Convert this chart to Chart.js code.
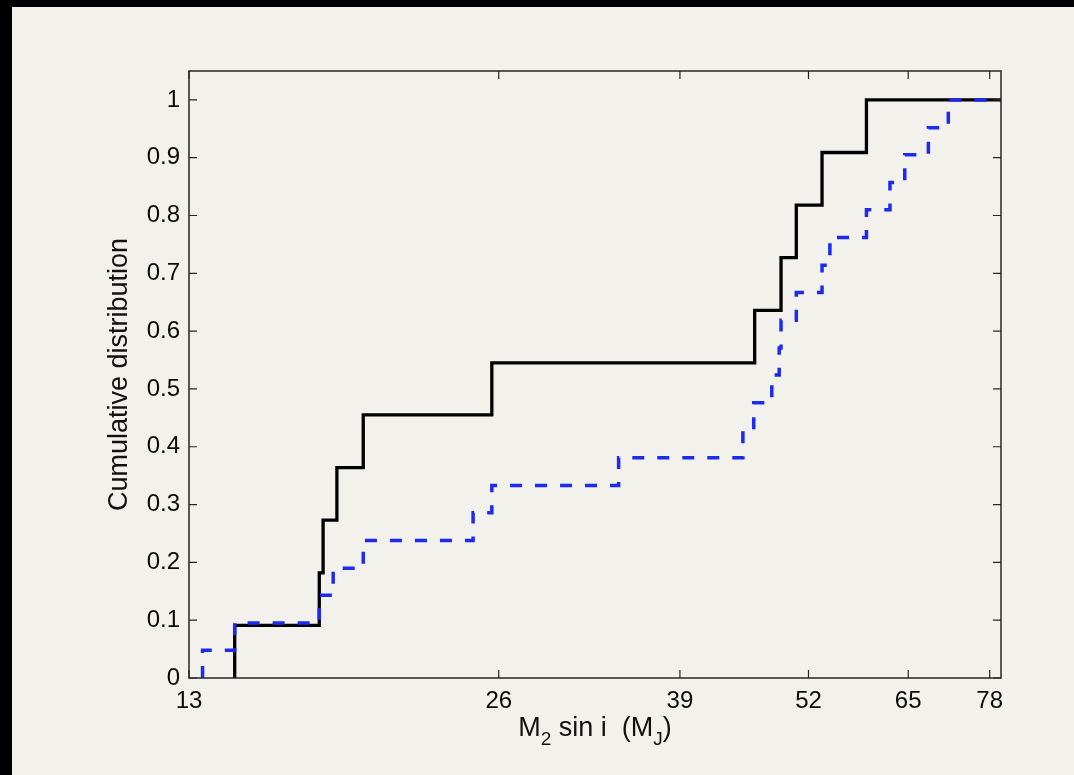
<!DOCTYPE html>
<html>
<head>
<meta charset="utf-8">
<script src="https://cdn.jsdelivr.net/npm/chart.js@4.4.1/dist/chart.umd.min.js"></script>
<style>
  html, body { margin: 0; padding: 0; background: #000; }
  .panel {
    position: absolute; left: 12px; top: 7px;
    width: 1062px; height: 768px;
    background: #f3f1eb;
  }
</style>
</head>
<body>
<div class="panel"><canvas id="cdfCanvas" width="1062" height="768"></canvas></div>
<script>
// minimum mass of each companion (M_J) and the cumulative fraction reached there
const massSolid = [14.4, 17.4, 17.55, 18.1, 19.2, 25.6, 46.1, 48.9, 50.6, 53.6, 59.2];
const cdfSolid = [0.091, 0.182, 0.273, 0.364, 0.455, 0.545, 0.636, 0.727, 0.818, 0.909, 1];

const massDashed = [13.4, 14.4, 17.4, 17.95, 19.2, 24.55, 25.6, 34.0, 44.9, 46.0, 47.9,
  48.7, 48.9, 50.6, 53.6, 54.55, 59.2, 62.4, 64.5, 68.0, 71.1];
const cdfDashed = [0.048, 0.095, 0.143, 0.190, 0.238, 0.286, 0.333, 0.381, 0.429, 0.476, 0.524,
  0.571, 0.619, 0.667, 0.714, 0.762, 0.810, 0.857, 0.905, 0.952, 1];

const xTicks = [13, 26, 39, 52, 65, 78];
const yTicks = [0, 0.1, 0.2, 0.3, 0.4, 0.5, 0.6, 0.7, 0.8, 0.9, 1];
const xMin = 13, xMax = 80;
const yMin = 0, yMax = 1.05;

// staircase: rise from zero at the first mass, flat out to the right edge at the end
function stairs(xs, ys) {
  const pts = [{ x: xs[0], y: 0 }];
  xs.forEach((x, i) => pts.push({ x: x, y: ys[i] }));
  pts.push({ x: xMax, y: ys[ys.length - 1] });
  return pts;
}

const FONT = "'Liberation Sans', Arial, Helvetica, sans-serif";
const axisColor = '#262626';

// box around the plot with matlab style inward ticks on all four sides
const frame = {
  id: 'frame',
  afterDatasetsDraw(chart) {
    const { ctx, chartArea: a, scales } = chart;
    const len = 8;
    ctx.save();
    ctx.strokeStyle = axisColor;
    ctx.lineWidth = 1.5;
    ctx.strokeRect(a.left, a.top, a.right - a.left, a.bottom - a.top);
    ctx.lineWidth = 1.2;
    ctx.beginPath();
    scales.x.ticks.forEach(t => {
      const px = scales.x.getPixelForValue(t.value);
      ctx.moveTo(px, a.bottom); ctx.lineTo(px, a.bottom - len);
      ctx.moveTo(px, a.top); ctx.lineTo(px, a.top + len);
    });
    scales.y.ticks.forEach(t => {
      const py = scales.y.getPixelForValue(t.value);
      ctx.moveTo(a.left, py); ctx.lineTo(a.left + len, py);
      ctx.moveTo(a.right, py); ctx.lineTo(a.right - len, py);
    });
    ctx.stroke();
    ctx.restore();
  }
};

// x axis title with subscripts: M2 sin i  (MJ)
const massTitle = {
  id: 'massTitle',
  afterDraw(chart) {
    const { ctx, chartArea: a } = chart;
    const parts = [
      ['M', 27, 0], ['2', 19, 9], [' sin i  (M', 27, 0], ['J', 19, 9], [')', 27, 0]
    ];
    ctx.save();
    ctx.fillStyle = '#111';
    ctx.textBaseline = 'alphabetic';
    let total = 0;
    parts.forEach(p => { ctx.font = p[1] + 'px ' + FONT; total += ctx.measureText(p[0]).width; });
    let x = (a.left + a.right) / 2 - total / 2;
    const base = a.bottom + 58;
    parts.forEach(p => {
      ctx.font = p[1] + 'px ' + FONT;
      ctx.fillText(p[0], x, base + p[2]);
      x += ctx.measureText(p[0]).width;
    });
    ctx.restore();
  }
};

new Chart(document.getElementById('cdfCanvas'), {
  type: 'scatter',
  data: {
    datasets: [
      {
        data: stairs(massDashed, cdfDashed),
        showLine: true,
        stepped: 'before',
        borderColor: '#1c2bef',
        borderWidth: 3.5,
        borderDash: [12, 13],
        borderCapStyle: 'butt',
        pointRadius: 0,
        fill: false
      },
      {
        data: stairs(massSolid, cdfSolid),
        showLine: true,
        stepped: 'before',
        borderColor: '#000000',
        borderWidth: 3.3,
        pointRadius: 0,
        fill: false
      }
    ]
  },
  options: {
    responsive: false,
    animation: false,
    layout: { padding: { left: 80, right: 73, top: 64, bottom: 0 } },
    plugins: { legend: { display: false }, tooltip: { enabled: false } },
    scales: {
      x: {
        type: 'logarithmic',
        min: xMin,
        max: xMax,
        grid: { display: false, drawTicks: false },
        border: { display: false },
        afterBuildTicks: s => { s.ticks = xTicks.map(v => ({ value: v })); },
        afterFit: s => { s.height = 97; s.paddingLeft = 0; s.paddingRight = 0; },
        ticks: {
          autoSkip: false,
          maxRotation: 0,
          padding: 9,
          color: '#0a0a0a',
          font: { family: FONT, size: 24 },
          callback: v => String(v)
        }
      },
      y: {
        min: yMin,
        max: yMax,
        grid: { display: false, drawTicks: false },
        border: { display: false },
        afterBuildTicks: s => { s.ticks = yTicks.map(v => ({ value: v })); },
        afterFit: s => { s.width = 97; s.paddingTop = 0; s.paddingBottom = 0; },
        title: {
          display: true,
          text: 'Cumulative distribution',
          color: '#111',
          font: { family: FONT, size: 27 },
          padding: { top: 11, bottom: 0 }
        },
        ticks: {
          padding: 9,
          color: '#0a0a0a',
          font: { family: FONT, size: 24 },
          callback: v => String(v)
        }
      }
    }
  },
  plugins: [frame, massTitle]
});
</script>
</body>
</html>
